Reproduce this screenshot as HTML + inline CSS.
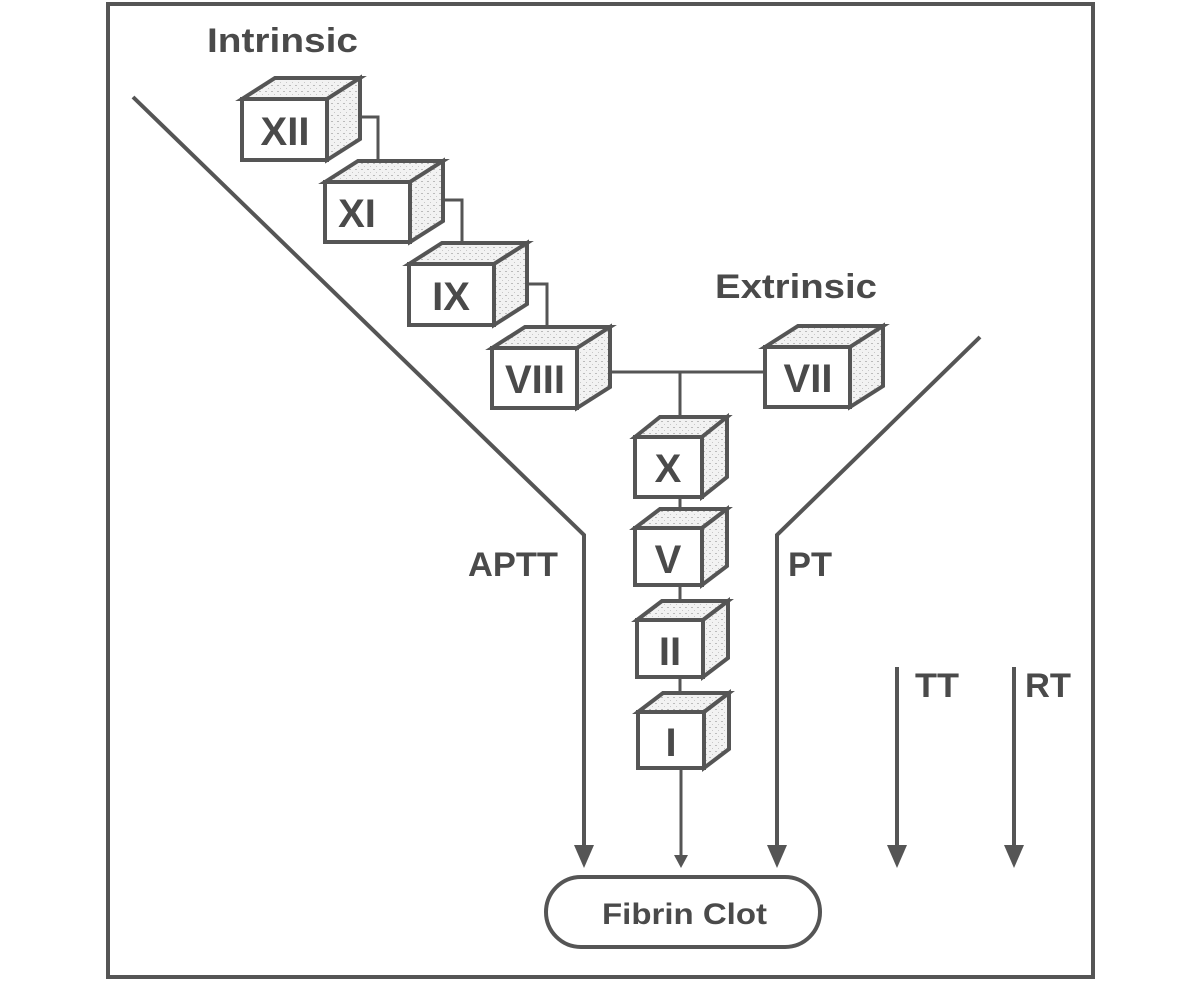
<!DOCTYPE html>
<html><head><meta charset="utf-8"><style>
html,body{margin:0;padding:0;background:#fff;}
svg{display:block;}
text{font-family:"Liberation Sans",sans-serif;font-weight:bold;fill:#4a4a4a;}
</style></head><body>
<svg width="1200" height="981" viewBox="0 0 1200 981" xmlns="http://www.w3.org/2000/svg">
<defs>
<pattern id="dots" width="6" height="6" patternUnits="userSpaceOnUse">
<rect width="6" height="6" fill="#f2f2f2"/><rect x="1" y="1" width="2" height="1" fill="#bbb"/><rect x="4" y="4" width="1" height="1" fill="#c8c8c8"/>
</pattern>
</defs>
<rect x="108" y="4" width="985" height="973" fill="none" stroke="#555" stroke-width="4"/>

<g stroke="#555" stroke-width="4" fill="none" stroke-linejoin="miter">
<polyline points="133,97 584,535 584,850"/>
<polyline points="980,337 777,535 777,850"/>
<line x1="897" y1="667" x2="897" y2="850"/>
<line x1="1014" y1="667" x2="1014" y2="850"/>
</g>
<g fill="#555">
<polygon points="574,845 594,845 584,868"/>
<polygon points="767,845 787,845 777,868"/>
<polygon points="887,845 907,845 897,868"/>
<polygon points="1004,845 1024,845 1014,868"/>
<polygon points="674,855 688,855 681,868"/>
</g>

<g stroke="#555" stroke-width="3" fill="none">
<polyline points="343,117 378,117 378,178"/>
<polyline points="427,200 462,200 462,258"/>
<polyline points="510,284 547,284 547,340"/>
<polyline points="592,372 680,372 765,372"/>
<line x1="680" y1="372" x2="680" y2="420"/>
<line x1="680" y1="497" x2="680" y2="512"/>
<line x1="680" y1="585" x2="680" y2="605"/>
<line x1="680" y1="677" x2="680" y2="697"/>
<line x1="681" y1="768" x2="681" y2="858"/>
</g>

<g stroke="#555" stroke-width="4" stroke-linejoin="miter">
<polygon points="242,99 275,78 360,78 327,99" fill="url(#dots)"/>
<polygon points="327,99 360,78 360,139 327,160" fill="url(#dots)"/>
<rect x="242" y="99" width="85" height="61" fill="#fff"/>
<polygon points="325,182 358,161 443,161 410,182" fill="url(#dots)"/>
<polygon points="410,182 443,161 443,221 410,242" fill="url(#dots)"/>
<rect x="325" y="182" width="85" height="60" fill="#fff"/>
<polygon points="409,264 442,243 527,243 494,264" fill="url(#dots)"/>
<polygon points="494,264 527,243 527,304 494,325" fill="url(#dots)"/>
<rect x="409" y="264" width="85" height="61" fill="#fff"/>
<polygon points="492,348 525,327 610,327 577,348" fill="url(#dots)"/>
<polygon points="577,348 610,327 610,387 577,408" fill="url(#dots)"/>
<rect x="492" y="348" width="85" height="60" fill="#fff"/>
<polygon points="765,347 798,326 883,326 850,347" fill="url(#dots)"/>
<polygon points="850,347 883,326 883,386 850,407" fill="url(#dots)"/>
<rect x="765" y="347" width="85" height="60" fill="#fff"/>
<polygon points="635,437 660,417 727,417 702,437" fill="url(#dots)"/>
<polygon points="702,437 727,417 727,477 702,497" fill="url(#dots)"/>
<rect x="635" y="437" width="67" height="60" fill="#fff"/>
<polygon points="635,528 660,509 727,509 702,528" fill="url(#dots)"/>
<polygon points="702,528 727,509 727,566 702,585" fill="url(#dots)"/>
<rect x="635" y="528" width="67" height="57" fill="#fff"/>
<polygon points="637,620 662,601 728,601 703,620" fill="url(#dots)"/>
<polygon points="703,620 728,601 728,658 703,677" fill="url(#dots)"/>
<rect x="637" y="620" width="66" height="57" fill="#fff"/>
<polygon points="638,712 663,693 729,693 704,712" fill="url(#dots)"/>
<polygon points="704,712 729,693 729,749 704,768" fill="url(#dots)"/>
<rect x="638" y="712" width="66" height="56" fill="#fff"/>
</g>

<g font-size="40" text-anchor="middle">
<text x="285" y="145">XII</text>
<text x="357" y="227">XI</text>
<text x="451" y="310">IX</text>
<text x="535" y="393">VIII</text>
<text x="808" y="392">VII</text>
<text x="668" y="482">X</text>
<text x="668" y="573">V</text>
<text x="670" y="665">II</text>
<text x="671" y="756">I</text>
</g>

<g font-size="34">
<text x="207" y="52" textLength="151" lengthAdjust="spacingAndGlyphs">Intrinsic</text>
<text x="715" y="298" textLength="162" lengthAdjust="spacingAndGlyphs">Extrinsic</text>
<text x="468" y="576" textLength="90" lengthAdjust="spacingAndGlyphs">APTT</text>
<text x="788" y="576" textLength="44" lengthAdjust="spacingAndGlyphs">PT</text>
<text x="915" y="697" textLength="44" lengthAdjust="spacingAndGlyphs">TT</text>
<text x="1025" y="697" textLength="46" lengthAdjust="spacingAndGlyphs">RT</text>
</g>

<rect x="546" y="877" width="274" height="70" rx="35" ry="35" fill="#fff" stroke="#555" stroke-width="4"/>
<text x="602" y="924" font-size="30" textLength="165" lengthAdjust="spacingAndGlyphs">Fibrin Clot</text>
</svg>
</body></html>
